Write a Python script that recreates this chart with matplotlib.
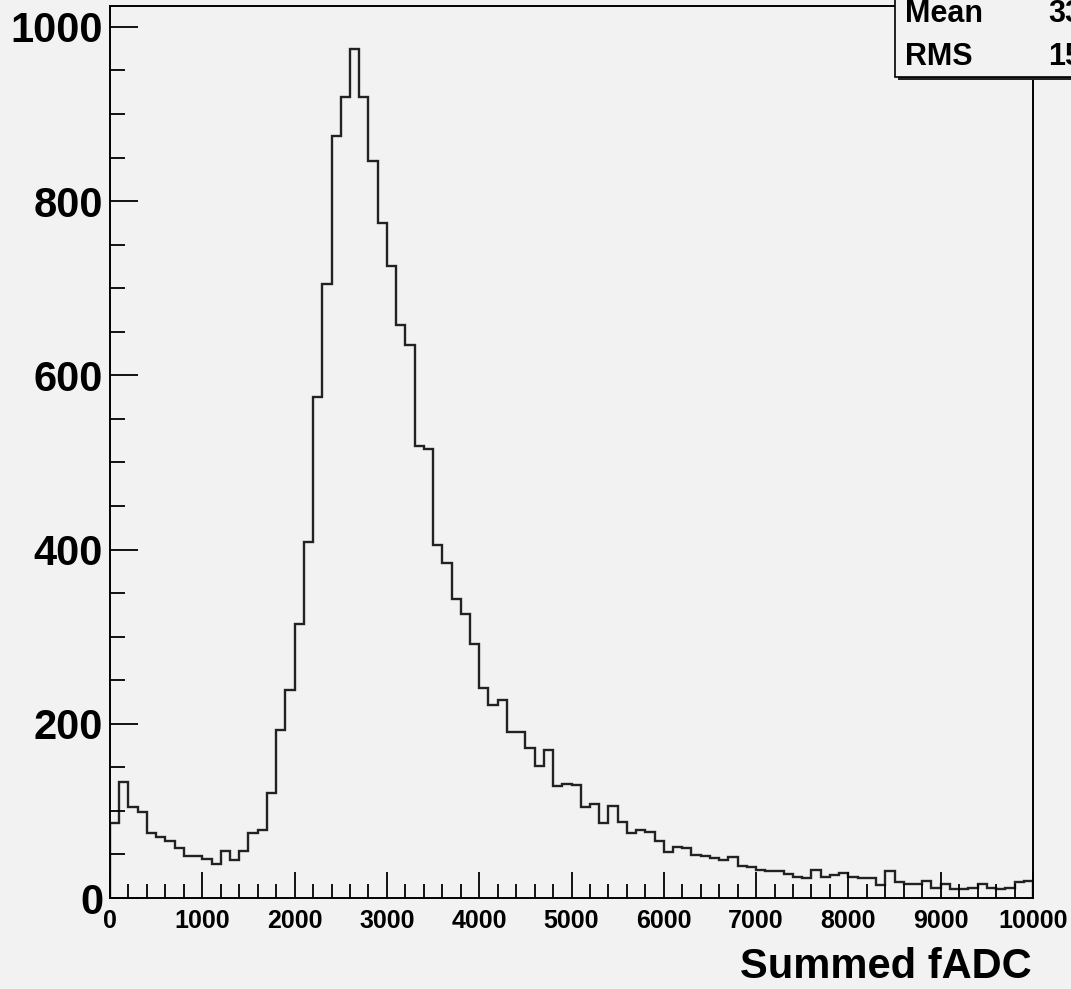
import numpy as np
import matplotlib.pyplot as plt
from matplotlib.ticker import MultipleLocator
from matplotlib.patches import Rectangle

# bin contents, 100 bins of width 100 from 0 to 10000
counts = [86, 133, 104, 99, 75, 70, 65, 57, 48, 48,
          45, 39, 54, 44, 54, 75, 78, 120, 193, 239,
          315, 409, 575, 705, 875, 919, 975, 919, 846, 775,
          726, 658, 635, 519, 515, 405, 385, 343, 326, 292,
          241, 222, 227, 191, 190, 172, 152, 170, 129, 131,
          130, 104, 108, 86, 106, 87, 75, 78, 76, 65,
          53, 59, 57, 49, 48, 46, 44, 47, 37, 36,
          32, 31, 31, 28, 24, 23, 32, 24, 26, 29,
          24, 23, 23, 15, 31, 18, 16, 16, 20, 11,
          16, 10, 10, 11, 16, 11, 10, 11, 18, 20]
bin_edges = np.arange(0, 10001, 100)
x_label = "Summed fADC"
stat_names = ["Mean", "RMS"]
stat_values = ["3345", "1563"]

W, H = 1071, 989
bg = "#f2f2f2"
font = "Liberation Sans"

fig = plt.figure(figsize=(W / 100, H / 100), dpi=100, facecolor=bg)
ax = fig.add_axes([110 / W, (H - 898) / H, (1033 - 110) / W, (898 - 6) / H])
ax.set_facecolor(bg)

ax.stairs(counts, bin_edges, color="#222222", lw=1.7)

ax.set_xlim(0, 10000)
ax.set_ylim(0, 1024)

ax.xaxis.set_major_locator(MultipleLocator(1000))
ax.xaxis.set_minor_locator(MultipleLocator(200))
ax.yaxis.set_major_locator(MultipleLocator(200))
ax.yaxis.set_minor_locator(MultipleLocator(50))

ax.tick_params(axis="both", which="both", direction="in", color="black", width=1.3)
ax.tick_params(axis="x", which="major", length=19, pad=8)
ax.tick_params(axis="x", which="minor", length=10)
ax.tick_params(axis="y", which="major", length=20, pad=5)
ax.tick_params(axis="y", which="minor", length=11)

for lab in ax.get_xticklabels():
    lab.set_fontfamily(font)
    lab.set_fontweight("bold")
    lab.set_fontsize(18)
for lab in ax.get_yticklabels():
    lab.set_fontfamily(font)
    lab.set_fontweight("bold")
    lab.set_fontsize(30)

for sp in ax.spines.values():
    sp.set_linewidth(1.4)
    sp.set_color("black")

fig.text(1032 / W, 1 - 967 / H, x_label, ha="right", va="center",
         fontsize=30, fontweight="bold", fontfamily=font)

# stats box (cut by the figure edge like the original)
fig.patches.append(Rectangle((898 / W, 1 - 80 / H), 200 / W, 100 / H,
                             transform=fig.transFigure, facecolor="#222222",
                             edgecolor="none", zorder=5))
fig.patches.append(Rectangle((895 / W, 1 - 77 / H), 200 / W, 100 / H,
                             transform=fig.transFigure, facecolor=bg,
                             edgecolor="black", lw=1.2, zorder=6))
for i, (n, v) in enumerate(zip(stat_names, stat_values)):
    yy = 1 - (14 + 43 * i) / H
    fig.text(905 / W, yy, n, ha="left", va="center", fontsize=22,
             fontweight="bold", fontfamily=font, zorder=7)
    fig.text(1048 / W, yy, v, ha="left", va="center", fontsize=22,
             fontweight="bold", fontfamily=font, zorder=7)

fig.savefig("out.png", dpi=100, facecolor=bg)
